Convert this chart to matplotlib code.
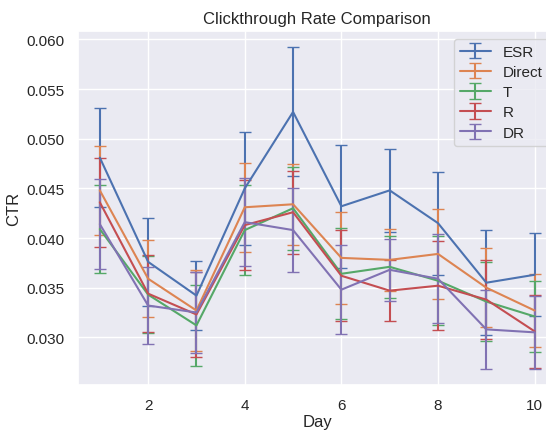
import matplotlib
matplotlib.use("Agg")
import matplotlib.pyplot as plt
import seaborn as sns

sns.set()
plt.rcParams["font.family"] = ["Liberation Sans", "DejaVu Sans"]

days = [1, 2, 3, 4, 5, 6, 7, 8, 9, 10]

esr = [0.0481, 0.0376, 0.0342, 0.0450, 0.0527, 0.0432, 0.0448, 0.0415, 0.0355, 0.0363]
esr_err = [0.0050, 0.0044, 0.0035, 0.0057, 0.0065, 0.0062, 0.0042, 0.0052, 0.0053, 0.0042]

direct = [0.0448, 0.0359, 0.0327, 0.0431, 0.0434, 0.0380, 0.0378, 0.0384, 0.0350, 0.0327]
direct_err = [0.0045, 0.0039, 0.0041, 0.0045, 0.0041, 0.0046, 0.0031, 0.0045, 0.0040, 0.0037]

t = [0.0409, 0.0343, 0.0312, 0.0408, 0.0430, 0.0364, 0.0371, 0.0357, 0.0336, 0.0321]
t_err = [0.0044, 0.0039, 0.0041, 0.0045, 0.0042, 0.0046, 0.0031, 0.0045, 0.0040, 0.0036]

r = [0.0436, 0.0344, 0.0323, 0.0413, 0.0426, 0.0362, 0.0347, 0.0352, 0.0338, 0.0306]
r_err = [0.0045, 0.0039, 0.0043, 0.0045, 0.0042, 0.0046, 0.0031, 0.0045, 0.0040, 0.0037]

dr = [0.0414, 0.0332, 0.0325, 0.0416, 0.0408, 0.0348, 0.0368, 0.0359, 0.0308, 0.0305]
dr_err = [0.0045, 0.0039, 0.0041, 0.0044, 0.0042, 0.0045, 0.0031, 0.0045, 0.0040, 0.0037]

series = [("ESR", esr, esr_err), ("Direct", direct, direct_err), ("T", t, t_err),
          ("R", r, r_err), ("DR", dr, dr_err)]

fig = plt.figure(figsize=(5.46, 4.31), dpi=100)
# the original was cropped on the right, so the axes run slightly past the edge
ax = fig.add_axes([0.143, 0.104, 0.876, 0.821])

for name, vals, errs in series:
    ax.errorbar(days, vals, yerr=errs, capsize=4, label=name)

ax.set_title("Clickthrough Rate Comparison")
ax.set_xlabel("Day", labelpad=1)
ax.set_ylabel("CTR")
ax.legend(loc="upper right", labelspacing=0.4)

fig.savefig("out.png", dpi=100)
